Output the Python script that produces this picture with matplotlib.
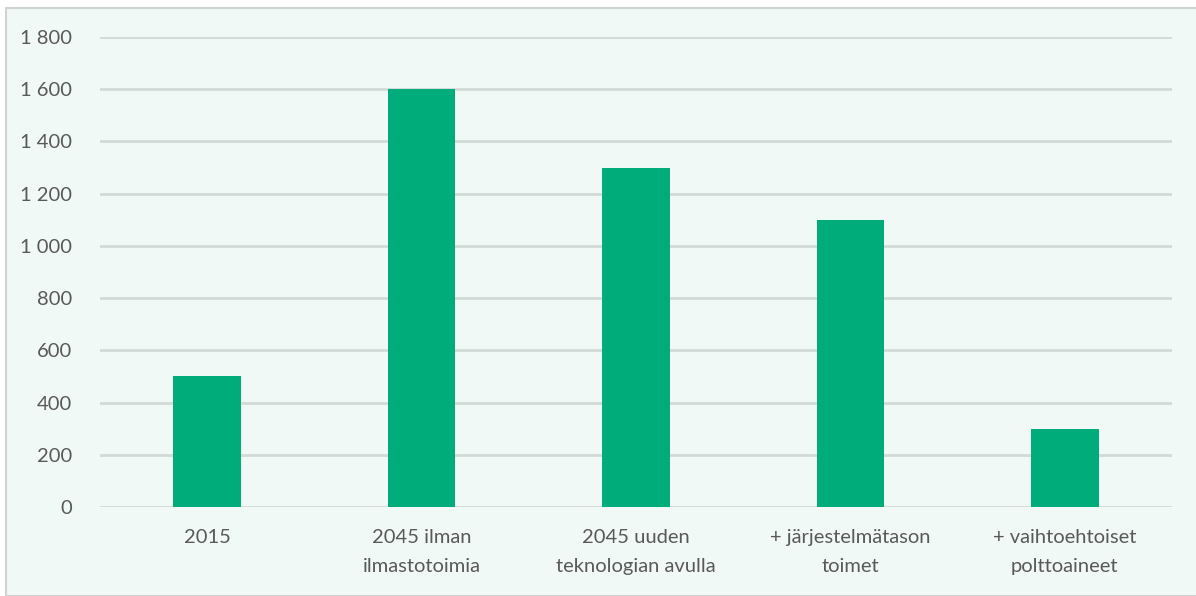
import matplotlib
matplotlib.use("Agg")
import matplotlib.pyplot as plt
from matplotlib.patches import Rectangle

categories = ["2015", "2045 ilman\nilmastotoimia", "2045 uuden\nteknologian avulla",
              "+ järjestelmätason\ntoimet", "+ vaihtoehtoiset\npolttoaineet"]
values = [500, 1600, 1300, 1100, 300]
yticks = [0, 200, 400, 600, 800, 1000, 1200, 1400, 1600, 1800]
ytick_labels = ["0", "200", "400", "600", "800", "1 000", "1 200", "1 400", "1 600", "1 800"]

plt.rcParams['font.family'] = ['Lato', 'DejaVu Sans']

W, H = 1196, 596
fig = plt.figure(figsize=(W/100, H/100), dpi=100, facecolor="white")
bg = Rectangle((6/W, 0), 1.2, (H-8)/H, transform=fig.transFigure,
               facecolor="#f1f9f6", edgecolor="#cfd3d2", linewidth=1.5, zorder=-10)
fig.add_artist(bg)

ax = fig.add_axes([100/W, (H-507)/H, 1072/W, 470/H])
ax.set_facecolor("none")
x = list(range(len(categories)))
ax.bar(x, values, width=0.315, color="#00ac7a", zorder=3)
ax.set_xlim(-0.5, len(categories) - 0.5)
ax.set_ylim(0, 1800)
ax.set_yticks(yticks)
ax.set_yticklabels(ytick_labels)
ax.set_xticks(x)
ax.set_xticklabels(categories, linespacing=1.85)
ax.yaxis.grid(True, color="#d3d9d7", linewidth=2, zorder=0)
for s in ax.spines.values():
    s.set_visible(False)
ax.tick_params(axis="both", length=0, labelsize=14.5, colors="#595959")
ax.tick_params(axis="y", pad=20)
ax.tick_params(axis="x", pad=16)
for lbl in ax.get_yticklabels():
    lbl.set_horizontalalignment("right")

fig.savefig("out.png", dpi=100, facecolor=fig.get_facecolor())
